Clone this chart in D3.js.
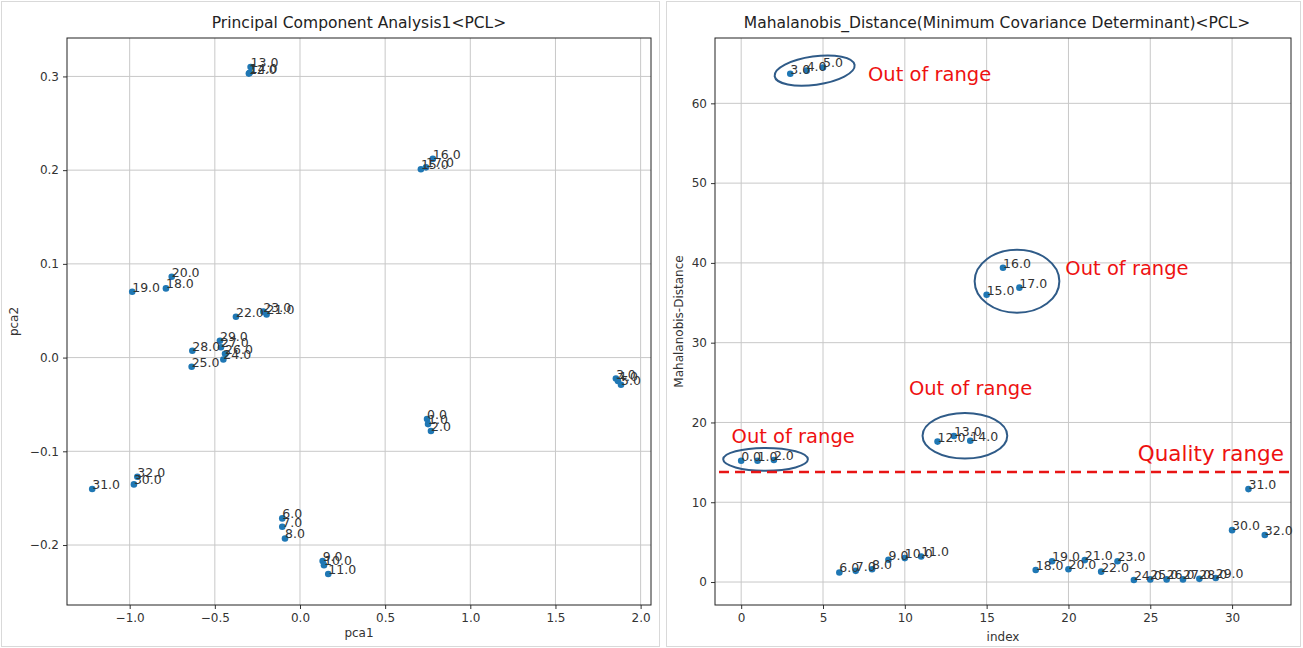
<!DOCTYPE html>
<html>
<head>
<meta charset="utf-8">
<script src="https://cdn.jsdelivr.net/npm/d3@7"></script>
<style>
  html, body { margin: 0; padding: 0; background: #fff; }
  svg { display: block; }
  text { font-family: "DejaVu Sans", sans-serif; }
</style>
</head>
<body>
<svg id="chart" width="1303" height="648"></svg>
<script>
// ---------------- DATA ----------------
const pointLabels = ["0.0","1.0","2.0","3.0","4.0","5.0","6.0","7.0","8.0","9.0","10.0",
  "11.0","12.0","13.0","14.0","15.0","16.0","17.0","18.0","19.0","20.0","21.0","22.0",
  "23.0","24.0","25.0","26.0","27.0","28.0","29.0","30.0","31.0","32.0"];
const sampleIndex = [0,1,2,3,4,5,6,7,8,9,10,11,12,13,14,15,16,17,18,19,20,21,22,23,24,25,26,27,28,29,30,31,32];
const pca1 = [0.746,0.752,0.769,1.855,1.867,1.885,-0.104,-0.104,-0.088,0.133,0.141,0.166,
  -0.300,-0.290,-0.295,0.710,0.780,0.740,-0.787,-0.985,-0.753,-0.196,-0.376,-0.215,
  -0.450,-0.636,-0.440,-0.464,-0.632,-0.470,-0.975,-1.220,-0.955];
const pca2 = [-0.0656,-0.0710,-0.0784,-0.0224,-0.0250,-0.0290,-0.1716,-0.1805,-0.1930,-0.2170,-0.2215,-0.2310,
  0.3030,0.3100,0.3040,0.2010,0.2120,0.2030,0.0738,0.0702,0.0862,0.0460,0.0435,0.0490,
  -0.0020,-0.0098,0.0040,0.0110,0.0073,0.0180,-0.1353,-0.1403,-0.1272];
const mahalanobis = [15.2,15.2,15.3,63.7,64.1,64.5,1.2,1.4,1.6,2.8,3.0,3.2,17.6,18.3,17.7,
  36.0,39.4,36.9,1.5,2.6,1.6,2.75,1.3,2.6,0.25,0.33,0.33,0.33,0.4,0.5,6.5,11.65,5.9];

const pcaXTicks = [-1.0,-0.5,0.0,0.5,1.0,1.5,2.0];
const pcaYTicks = [-0.2,-0.1,0.0,0.1,0.2,0.3];
const mdXTicks = [0,5,10,15,20,25,30];
const mdYTicks = [0,10,20,30,40,50,60];

const outOfRangeGroups = [[3,4,5],[15,16,17],[12,13,14],[0,1,2]];
const qualityThreshold = 13.8;
const leftTitle = "Principal Component Analysis1<PCL>";
const rightTitle = "Mahalanobis_Distance(Minimum Covariance Determinant)<PCL>";

// ---------------- LAYOUT ----------------
const svg = d3.select("#chart");
const fmt1 = v => d3.format(".1f")(v).replace("-", "\u2212");
const blue = "#1f77b4";

// panel frames
svg.append("rect").attr("x", 1.5).attr("y", 1.5).attr("width", 658).attr("height", 645)
  .attr("fill", "#fff").attr("stroke", "#d9d9d9");
svg.append("rect").attr("x", 666.5).attr("y", 1.5).attr("width", 634).attr("height", 645)
  .attr("fill", "#fff").attr("stroke", "#d9d9d9");

function drawAxes(g, x, y, xTicks, yTicks, xFmt, yFmt) {
  const [x0, x1] = x.range(), [y1, y0] = y.range();
  g.append("g").selectAll("line").data(xTicks).join("line")
    .attr("x1", d => x(d)).attr("x2", d => x(d)).attr("y1", y0).attr("y2", y1)
    .attr("stroke", "#c8c8c8").attr("stroke-width", 1);
  g.append("g").selectAll("line").data(yTicks).join("line")
    .attr("y1", d => y(d)).attr("y2", d => y(d)).attr("x1", x0).attr("x2", x1)
    .attr("stroke", "#c8c8c8").attr("stroke-width", 1);
  const xa = g.append("g").attr("transform", `translate(0,${y1})`)
    .call(d3.axisBottom(x).tickValues(xTicks).tickFormat(xFmt).tickSize(4).tickPadding(4).tickSizeOuter(0));
  const ya = g.append("g").attr("transform", `translate(${x0},0)`)
    .call(d3.axisLeft(y).tickValues(yTicks).tickFormat(yFmt).tickSize(4).tickPadding(4).tickSizeOuter(0));
  [xa, ya].forEach(a => {
    a.select(".domain").remove();
    a.selectAll("text").attr("font-family", "DejaVu Sans").attr("font-size", 12).attr("fill", "#333");
    a.selectAll("line").attr("stroke", "#333");
  });
  g.append("rect").attr("x", x0).attr("y", y0).attr("width", x1 - x0).attr("height", y1 - y0)
    .attr("fill", "none").attr("stroke", "#222").attr("stroke-width", 1);
}

// ---------------- LEFT: PCA ----------------
const xL = d3.scaleLinear().domain([-1.368, 2.061]).range([67, 651]);
const yL = d3.scaleLinear().domain([-0.264, 0.341]).range([605, 38]);
const gL = svg.append("g");
drawAxes(gL, xL, yL, pcaXTicks, pcaYTicks, fmt1, fmt1);

const pcaData = sampleIndex.map((i) => ({ x: pca1[i], y: pca2[i], label: pointLabels[i] }));
gL.append("g").selectAll("circle").data(pcaData).join("circle")
  .attr("cx", d => xL(d.x)).attr("cy", d => yL(d.y)).attr("r", 3.3).attr("fill", blue);
gL.append("g").selectAll("text").data(pcaData).join("text")
  .attr("x", d => xL(d.x)).attr("y", d => yL(d.y))
  .attr("font-size", 12.5).attr("fill", "#333").text(d => d.label);

gL.append("text").attr("x", (xL.range()[0] + xL.range()[1]) / 2).attr("y", 28)
  .attr("text-anchor", "middle").attr("font-size", 15.5).attr("fill", "#222").text(leftTitle);
gL.append("text").attr("x", (xL.range()[0] + xL.range()[1]) / 2).attr("y", 637)
  .attr("text-anchor", "middle").attr("font-size", 12).attr("fill", "#333").text("pca1");
gL.append("text").attr("transform", `translate(18,${(yL.range()[0] + yL.range()[1]) / 2}) rotate(-90)`)
  .attr("text-anchor", "middle").attr("font-size", 12).attr("fill", "#333").text("pca2");

// ---------------- RIGHT: Mahalanobis ----------------
const xR = d3.scaleLinear().domain([-1.6, 33.6]).range([715, 1291]);
const yR = d3.scaleLinear().domain([-2.88, 68.19]).range([605, 38]);
const gR = svg.append("g");
drawAxes(gR, xR, yR, mdXTicks, mdYTicks, d3.format("d"), d3.format("d"));

const mdData = sampleIndex.map((i) => ({ x: i, y: mahalanobis[i], label: pointLabels[i] }));
gR.append("g").selectAll("circle").data(mdData).join("circle")
  .attr("cx", d => xR(d.x)).attr("cy", d => yR(d.y)).attr("r", 3.3).attr("fill", blue);
gR.append("g").selectAll("text").data(mdData).join("text")
  .attr("x", d => xR(d.x)).attr("y", d => yR(d.y))
  .attr("font-size", 12.5).attr("fill", "#333").text(d => d.label);

gR.append("text").attr("x", (xR.range()[0] + xR.range()[1]) / 2 - 6).attr("y", 28)
  .attr("text-anchor", "middle").attr("font-size", 15.5).attr("fill", "#222").text(rightTitle);
gR.append("text").attr("x", (xR.range()[0] + xR.range()[1]) / 2).attr("y", 641)
  .attr("text-anchor", "middle").attr("font-size", 12).attr("fill", "#333").text("index");
gR.append("text").attr("transform", `translate(683,${(yR.range()[0] + yR.range()[1]) / 2}) rotate(-90)`)
  .attr("text-anchor", "middle").attr("font-size", 12).attr("fill", "#333").text("Mahalanobis-Distance");

// ---------------- ANNOTATIONS ----------------
// ellipse around each out-of-range group, derived from the group's points (pixel padding)
const ellipsePad = [
  { dx: 8, dy: 0, px: 24, py: 11, rot: -8, tx: 53, ty: 10 },
  { dx: 14, dy: 0, px: 26, py: 18, rot: 0, tx: 46, ty: -6 },
  { dx: 11, dy: -3, px: 26, py: 20, rot: 0, tx: -56, ty: -41 },
  { dx: 8, dy: -1, px: 26, py: 11, rot: 0, tx: -34, ty: -16 }
];
const annG = svg.append("g");
outOfRangeGroups.forEach((grp, k) => {
  const xs = grp.map(i => xR(i)), ys = grp.map(i => yR(mahalanobis[i]));
  const p = ellipsePad[k];
  const cx = (d3.min(xs) + d3.max(xs)) / 2 + p.dx;
  const cy = (d3.min(ys) + d3.max(ys)) / 2 + p.dy;
  const rx = (d3.max(xs) - d3.min(xs)) / 2 + p.px;
  const ry = (d3.max(ys) - d3.min(ys)) / 2 + p.py;
  annG.append("ellipse").attr("cx", cx).attr("cy", cy).attr("rx", rx).attr("ry", ry)
    .attr("transform", `rotate(${p.rot},${cx},${cy})`)
    .attr("fill", "none").attr("stroke", "#2f5b88").attr("stroke-width", 2);
  annG.append("text").attr("y", cy + p.ty)
    .attr("x", k === 2 || k === 3 ? cx + p.tx : cx + p.tx - 40 + rx)
    .attr("font-family", "Open Sans").attr("font-size", 19.5).attr("fill", "#ee1111")
    .text("Out of range");
});

annG.append("line").attr("x1", xR.range()[0] + 4).attr("x2", xR.range()[1] - 2)
  .attr("y1", yR(qualityThreshold)).attr("y2", yR(qualityThreshold))
  .attr("stroke", "#e81515").attr("stroke-width", 2.5).attr("stroke-dasharray", "10,6");
annG.append("text").attr("x", xR.range()[1] - 7).attr("y", yR(qualityThreshold) - 11)
  .attr("text-anchor", "end").attr("font-family", "Open Sans").attr("font-size", 21.5)
  .attr("fill", "#ee1111").text("Quality range");
</script>
</body>
</html>
